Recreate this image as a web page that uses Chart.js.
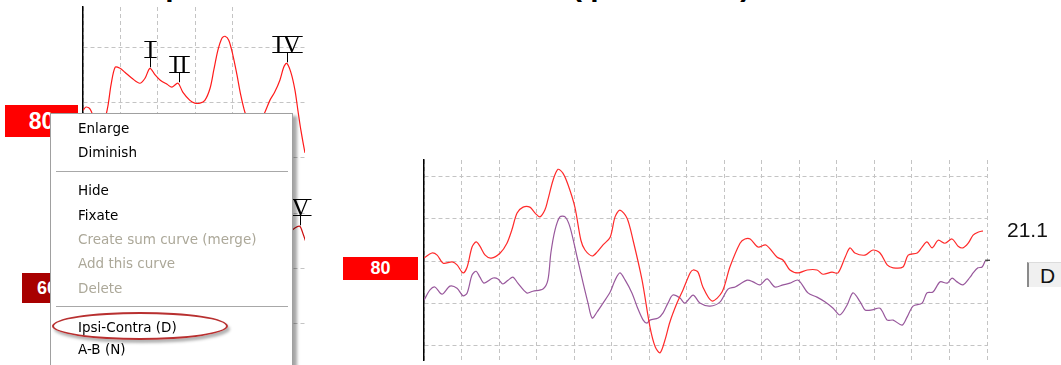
<!DOCTYPE html>
<html>
<head>
<meta charset="utf-8">
<script src="https://cdn.jsdelivr.net/npm/chart.js@4.4.1/dist/chart.umd.min.js"></script>
<style>
  body { margin: 0; width: 1061px; height: 365px; overflow: hidden; position: relative; background: #fff; font-family: Arial, "Liberation Sans", sans-serif; }
  .abs { position: absolute; }
  #title { top: -29px; left: 60px; font: bold 30px/30px Arial, "Liberation Sans", sans-serif; white-space: nowrap; color: #000; }
  .lvl { color: #fff; font-weight: bold; }
  #menu { left: 50px; top: 113px; width: 241px; height: 270px; background: #fff; border: 1px solid #a0a0a0; box-shadow: 4px 3px 3px rgba(0,0,0,0.35); font: 13.5px "DejaVu Sans", Verdana, sans-serif; color: #000; }
  #menu .it { position: absolute; left: 27px; line-height: 20px; white-space: nowrap; }
  #menu .off { color: #aca899; }
  #menu .sep { position: absolute; left: 5px; width: 232px; height: 1px; background: #a8a8a8; }
  #ring { left: 52px; top: 312px; width: 172px; height: 24px; border: 2px solid #b83030; border-radius: 50%; box-shadow: 2px 3px 3px rgba(0,0,0,0.3); }
</style>
</head>
<body>
<div id="title" class="abs"><span>2. Ipsi-Contra Difference Curve </span><span id="tpar">(Ipsi-Contra) Curve</span></div>

<canvas id="leftChart" class="abs" style="left:0;top:0" width="320" height="365"></canvas>
<canvas id="rightChart" class="abs" style="left:330px;top:140px" width="731" height="225"></canvas>

<!-- level labels -->
<div class="abs lvl" style="left:5px;top:105px;width:73px;height:32px;background:#ff0000;font-size:23px;line-height:32px;text-align:center">80</div>
<div class="abs lvl" style="left:22px;top:273px;width:73px;height:30px;background:#a80000;font-size:18px;line-height:30px;padding-left:15px;box-sizing:border-box">60</div>
<div class="abs lvl" style="left:343px;top:257px;width:75px;height:23px;background:#ff0000;font-size:18px;line-height:23px;text-align:center">80</div>

<div class="abs" style="left:1007px;top:219px;font-size:21px;line-height:21px;color:#111">21.1</div>
<div class="abs" style="left:1027px;top:262px;width:40px;height:25px;background:#f0f0f0;border-left:2px solid #8a8a8a;border-top:1px solid #dcdcdc;box-sizing:border-box;font-size:21px;line-height:25px;padding-left:11px;color:#111">D</div>

<!-- context menu -->
<div id="menu" class="abs">
  <div class="it" style="top:4px">Enlarge</div>
  <div class="it" style="top:28px">Diminish</div>
  <div class="sep" style="top:57px"></div>
  <div class="it" style="top:66px">Hide</div>
  <div class="it" style="top:91px">Fixate</div>
  <div class="it off" style="top:115px">Create sum curve (merge)</div>
  <div class="it off" style="top:139px">Add this curve</div>
  <div class="it off" style="top:164px">Delete</div>
  <div class="sep" style="top:192px"></div>
  <div class="it" style="top:203px">Ipsi-Contra (D)</div>
  <div class="it" style="top:225px">A-B (N)</div>
</div>
<div id="ring" class="abs"></div>

<script>
// left panel: 80 dB and 60 dB traces (latency ms, amplitude in grid units)
const trace80X = [0, 0.08, 0.19, 0.32, 0.45, 0.59, 0.67, 0.75, 0.86, 0.99, 1.12, 1.31, 1.52, 1.66, 1.79, 1.93, 2.06, 2.25, 2.38, 2.54, 2.67, 2.86, 2.99, 3.13, 3.26, 3.40, 3.50, 3.61, 3.72, 3.80, 3.90, 4.01, 4.12, 4.22, 4.33, 4.47, 4.60, 4.73, 4.87, 5.00, 5.13, 5.27, 5.37, 5.45, 5.56, 5.67, 5.75, 5.83, 5.94, 6.02];
const trace80Y = [1.86, 1.92, 1.88, 1.68, 1.59, 1.72, 1.95, 2.32, 2.64, 2.62, 2.55, 2.44, 2.35, 2.44, 2.62, 2.50, 2.41, 2.33, 2.28, 2.35, 2.19, 2.04, 1.99, 1.99, 2.04, 2.26, 2.59, 2.95, 3.17, 3.20, 3.13, 2.86, 2.50, 2.14, 1.83, 1.59, 1.54, 1.65, 1.83, 2.04, 2.19, 2.41, 2.64, 2.71, 2.55, 2.23, 1.86, 1.50, 1.09, 0.87];
const trace60X = [0, 0.45, 0.99, 1.52, 2.06, 2.59, 3.13, 3.66, 4.20, 4.73, 5.13, 5.45, 5.67, 5.80, 5.88, 5.99];
const trace60Y = [-1.25, -1.30, -1.12, -1.03, -0.89, -1.00, -0.67, -0.49, -0.76, -0.89, -0.67, -0.40, -0.27, -0.24, -0.36, -0.58];

// wave peak labels on the left panel
const peakNames = ['I', 'II', 'IV', 'V'];
const peakLatency = [1.79, 2.57, 5.45, 5.80];
const peakAmp = [2.62, 2.35, 2.71, -0.24];

// right panel: ipsi trace (red) and ipsi-contra difference (purple)
const ipsiX = [0, 0.21, 0.35, 0.51, 0.75, 0.88, 1.04, 1.15, 1.28, 1.39, 1.49, 1.63, 1.79, 2.03, 2.21, 2.34, 2.48, 2.64, 2.82, 2.96, 3.09, 3.22, 3.30, 3.44, 3.57, 3.70, 3.84, 4.02, 4.18, 4.29, 4.48, 4.61, 4.77, 4.96, 5.09, 5.22, 5.41, 5.57, 5.81, 6.02, 6.16, 6.29, 6.42, 6.55, 6.74, 6.90, 7.09, 7.17, 7.30, 7.43, 7.67, 7.94, 8.15, 8.42, 8.55, 8.69, 8.90, 9.11, 9.41, 9.57, 9.75, 9.97, 10.21, 10.47, 10.63, 10.87, 11.03, 11.22, 11.35, 11.48, 11.75, 11.96, 12.15, 12.34, 12.50, 12.76, 12.90, 13.14, 13.27, 13.40, 13.54, 13.70, 13.88, 14.07, 14.23, 14.36, 14.50, 14.63, 14.76, 14.89];
const ipsiY = [0.07, 0.19, 0.14, -0.05, -0.02, -0.09, -0.28, -0.14, 0.33, 0.45, 0.35, 0.14, 0.07, 0.19, 0.42, 0.73, 1.13, 1.27, 1.27, 1.13, 1.04, 1.20, 1.44, 1.91, 2.16, 2.07, 1.79, 1.27, 0.49, 0.26, 0.12, 0.21, 0.38, 0.56, 1.04, 1.20, 1.01, 0.49, -0.45, -1.55, -2.02, -2.16, -1.86, -1.44, -0.99, -0.68, -0.28, -0.21, -0.26, -0.61, -0.94, -0.73, -0.14, 0.42, 0.52, 0.52, 0.33, 0.38, 0.09, 0.02, -0.21, -0.28, -0.21, -0.21, -0.31, -0.26, -0.28, 0.09, 0.31, 0.19, 0.14, 0.26, 0.19, -0.09, -0.16, -0.14, 0.14, 0.19, 0.33, 0.45, 0.31, 0.49, 0.42, 0.52, 0.35, 0.31, 0.42, 0.61, 0.68, 0.71];
const diffX = [0, 0.16, 0.29, 0.48, 0.69, 0.88, 1.04, 1.15, 1.28, 1.39, 1.49, 1.60, 1.84, 1.97, 2.10, 2.24, 2.37, 2.50, 2.74, 2.90, 3.17, 3.30, 3.38, 3.49, 3.62, 3.76, 3.89, 4.08, 4.24, 4.37, 4.48, 4.61, 4.77, 4.96, 5.09, 5.22, 5.36, 5.54, 5.68, 5.84, 5.94, 6.02, 6.24, 6.37, 6.50, 6.63, 6.82, 6.95, 7.17, 7.35, 7.62, 7.89, 8.10, 8.29, 8.61, 8.77, 8.95, 9.14, 9.35, 9.57, 9.75, 9.97, 10.23, 10.47, 10.68, 10.90, 11.08, 11.27, 11.43, 11.62, 11.75, 11.94, 12.15, 12.34, 12.50, 12.74, 12.87, 13.03, 13.27, 13.40, 13.56, 13.75, 13.94, 14.07, 14.20, 14.36, 14.55, 14.63, 14.76, 14.87, 14.95];
const diffY = [-0.92, -0.68, -0.61, -0.78, -0.59, -0.64, -0.82, -0.75, -0.33, -0.24, -0.38, -0.52, -0.40, -0.42, -0.54, -0.45, -0.38, -0.52, -0.75, -0.71, -0.66, -0.45, 0.19, 0.73, 1.04, 1.04, 0.80, 0.09, -0.52, -0.99, -1.34, -1.20, -0.99, -0.73, -0.45, -0.28, -0.45, -0.75, -1.08, -1.39, -1.46, -1.39, -1.34, -1.22, -0.99, -0.80, -0.87, -0.99, -0.80, -0.99, -1.06, -0.96, -0.66, -0.61, -0.45, -0.49, -0.56, -0.42, -0.61, -0.56, -0.52, -0.45, -0.75, -0.85, -0.96, -1.11, -1.27, -1.04, -0.75, -0.96, -1.15, -1.15, -1.11, -1.39, -1.39, -1.51, -1.32, -1.06, -0.99, -0.75, -0.73, -0.49, -0.52, -0.40, -0.49, -0.56, -0.38, -0.28, -0.16, -0.14, 0.00];
// leader line from the end of the D curve to its tag
const leaderX = [14.95, 15.08, 15.48, 16.07];
const leaderY = [0.02, 0.02, -0.02, -0.05];

const pts = (xs, ys) => xs.map((x, i) => ({ x: x, y: ys[i] }));

const onlyWhole = s => {
	s.ticks = s.ticks.filter(t => Math.abs(t.value - Math.round(t.value)) < 1e-6);
};

function waveChart(id, pad, xMax, yMin, yMax, datasets, plugins) {
	return new Chart(document.getElementById(id), {
		type: 'line',
		data: { datasets: datasets },
		options: {
			responsive: false,
			animation: false,
			devicePixelRatio: 1,
			layout: { padding: pad },
			plugins: { legend: { display: false }, tooltip: { enabled: false } },
			elements: { point: { radius: 0 }, line: { borderWidth: 1.2, tension: 0.3 } },
			scales: {
				x: {
					type: 'linear', min: 0, max: xMax,
					ticks: { display: false, stepSize: 1 },
					grid: { color: '#c4c4c4', drawTicks: false },
					border: { display: false, dash: [4, 3] },
					afterBuildTicks: onlyWhole,
					afterFit: s => { s.height = 0; }
				},
				y: {
					type: 'linear', min: yMin, max: yMax,
					ticks: { display: false, stepSize: 1 },
					grid: { color: '#c4c4c4', drawTicks: false },
					border: { display: true, color: '#000', width: 1.5, dash: [4, 3] },
					afterBuildTicks: onlyWhole,
					afterFit: s => { s.width = 0; }
				}
			}
		},
		plugins: plugins || []
	});
}

// roman numeral peak markers with bars above/below and a tick to the peak
const peakMarks = {
	id: 'peakMarks',
	afterDatasetsDraw(chart) {
		const { ctx, scales: { x, y } } = chart;
		ctx.save();
		ctx.fillStyle = '#000';
		ctx.strokeStyle = '#000';
		ctx.lineWidth = 1;
		ctx.font = '25px "Liberation Serif", "DejaVu Serif", serif';
		ctx.textAlign = 'center';
		ctx.textBaseline = 'alphabetic';
		peakNames.forEach((name, i) => {
			const px = Math.round(x.getPixelForValue(peakLatency[i])) + 0.5;
			const py = y.getPixelForValue(peakAmp[i]);
			const bottom = Math.round(py - 11) + 0.5;
			const top = bottom - 16;
			const w = ctx.measureText(name).width + 4;
			ctx.beginPath();
			ctx.moveTo(px, py - 1);
			ctx.lineTo(px, bottom);
			ctx.moveTo(px - w / 2, top);
			ctx.lineTo(px + w / 2, top);
			ctx.moveTo(px - w / 2, bottom);
			ctx.lineTo(px + w / 2, bottom);
			ctx.stroke();
			ctx.fillText(name, px, bottom);
		});
		ctx.restore();
	}
};

waveChart('leftChart', { left: 83, top: 7, right: 15, bottom: 0 }, 5.94, -2.75, 3.73, [
	{ data: pts(trace80X, trace80Y), borderColor: '#ff1a1a' },
	{ data: pts(trace60X, trace60Y), borderColor: '#cc1010' }
], [peakMarks]);

waveChart('rightChart', { left: 94, top: 20, right: 74, bottom: 5 }, 15, -2.33, 2.38, [
	{ data: pts(ipsiX, ipsiY), borderColor: '#ff2a2a' },
	{ data: pts(diffX, diffY), borderColor: '#98589c' },
	{ data: pts(leaderX, leaderY), borderColor: '#000', borderWidth: 1, tension: 0, clip: false }
]);

// line the partially visible heading up with the reference
const par = document.getElementById('tpar');
document.getElementById('title').style.left = (60 + 572 - par.getBoundingClientRect().left) + 'px';
</script>
</body>
</html>
